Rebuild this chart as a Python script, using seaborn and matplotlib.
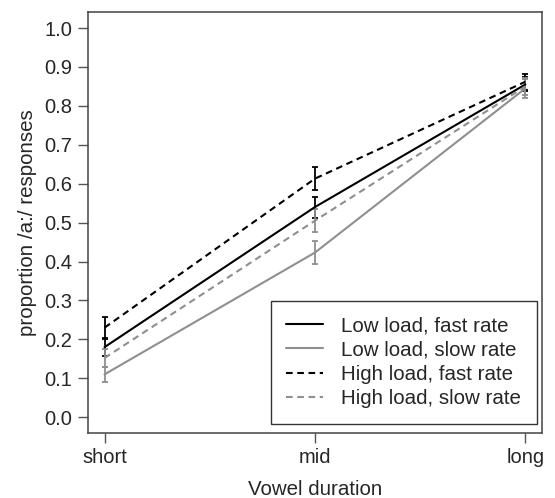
import numpy as np
import pandas as pd
import seaborn as sns
import matplotlib.pyplot as plt

# === Data ===
durations = ["short", "mid", "long"]
conditions = ["Low load, fast rate", "Low load, slow rate",
              "High load, fast rate", "High load, slow rate"]

low_fast = [0.180, 0.540, 0.855]
low_slow = [0.110, 0.423, 0.845]
high_fast = [0.230, 0.613, 0.862]
high_slow = [0.152, 0.505, 0.850]

low_fast_err = [0.023, 0.027, 0.018]
low_slow_err = [0.020, 0.030, 0.025]
high_fast_err = [0.028, 0.029, 0.021]
high_slow_err = [0.022, 0.030, 0.022]

means = [low_fast, low_slow, high_fast, high_slow]
errs = [low_fast_err, low_slow_err, high_fast_err, high_slow_err]

rows = []
for cond, m, e in zip(conditions, means, errs):
    for i, d in enumerate(durations):
        rows.append({"cond": cond, "dur": d, "pos": i, "prop": m[i], "err": e[i]})
df = pd.DataFrame(rows)

colors = {"Low load, fast rate": "black", "Low load, slow rate": "#8f8f8f",
          "High load, fast rate": "black", "High load, slow rate": "#8f8f8f"}
dash_map = {"Low load, fast rate": "", "Low load, slow rate": "",
            "High load, fast rate": (3.2, 2.2), "High load, slow rate": (3.2, 2.2)}

# === Plot ===
sns.set_style("ticks")
plt.rcParams["font.family"] = ["Liberation Sans", "DejaVu Sans"]

fig = plt.figure(figsize=(5.55, 4.98), dpi=100)
ax = fig.add_axes([0.158, 0.131, 0.819, 0.844])

for cond in conditions:
    sub = df[df["cond"] == cond]
    ax.errorbar(sub["pos"], sub["prop"], yerr=sub["err"], fmt="none",
                ecolor=colors[cond], elinewidth=1.3, capsize=2.4, capthick=1.3)

sns.lineplot(data=df, x="pos", y="prop", hue="cond", style="cond",
             hue_order=conditions, style_order=conditions,
             palette=colors, dashes=dash_map, linewidth=1.5, ax=ax)

ax.set_xlim(-0.08, 2.08)
ax.set_ylim(-0.04, 1.04)
ax.set_xticks(range(len(durations)))
ax.set_xticklabels(durations)
ax.set_yticks(np.arange(0, 1.01, 0.1))
ax.set_yticklabels([f"{v:.1f}" for v in np.arange(0, 1.01, 0.1)])
ax.tick_params(labelsize=14.5, length=7, width=1, color="#555555", pad=4)
for s in ax.spines.values():
    s.set_visible(True)
    s.set_color("#444444")
    s.set_linewidth(1.1)

ax.set_xlabel("Vowel duration", fontsize=14.8, labelpad=9)
ax.set_ylabel("proportion /a:/ responses", fontsize=14.8, labelpad=5)

leg = ax.legend(loc="lower right", bbox_to_anchor=(0.988, 0.022), borderaxespad=0,
                fancybox=False, edgecolor="#333333", framealpha=1, fontsize=14.8,
                handlelength=1.8, handletextpad=0.9, labelspacing=0.26,
                borderpad=0.75, title=None)
leg.get_frame().set_linewidth(1.0)

fig.savefig("out.png", dpi=100)
